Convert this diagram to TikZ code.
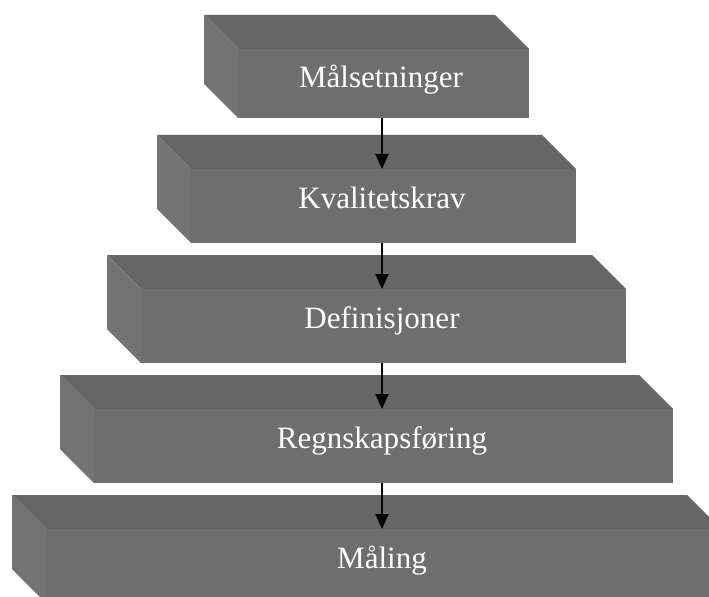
\documentclass[tikz,border=0pt]{standalone}
\usepackage{fontspec}
\setmainfont{Liberation Serif}
\usetikzlibrary{arrows.meta}
\begin{document}
\begin{tikzpicture}[x=0.03cm, y=-0.03cm, line join=miter,
    topface/.style={fill=black!60},
    sideface/.style={fill=black!55},
    frontface/.style={fill=black!57},
    label/.style={text=white, anchor=base, inner sep=0pt,
      font=\fontsize{26.5}{30}\selectfont},
    flow/.style={line width=1.7pt, -{Triangle[length=0.45cm, width=0.39cm]}}]
  \useasboundingbox (0,0) rectangle (709,597);
  \clip (0,0) rectangle (709,597);
  % Målsetninger
  \begin{scope}
    \fill[topface] (204,15) -- (495,15) -- (529,49) -- (238,49) -- cycle;
    \fill[sideface] (204,15) -- (238,49) -- (238,118) -- (204,84) -- cycle;
    \fill[frontface] (238,49) rectangle (529,118);
    \node[label] (t1) at (381,88) {Målsetninger};
    \coordinate (b1) at (382,118);
  \end{scope}
  % Kvalitetskrav
  \begin{scope}
    \fill[topface] (157,135) -- (542,135) -- (576,169) -- (191,169) -- cycle;
    \fill[sideface] (157,135) -- (191,169) -- (191,243) -- (157,209) -- cycle;
    \fill[frontface] (191,169) rectangle (576,243);
    \node[label] (t2) at (382,208) {Kvalitetskrav};
    \coordinate (f2) at (382,169);
    \coordinate (b2) at (382,243);
  \end{scope}
  % Definisjoner
  \begin{scope}
    \fill[topface] (107,255) -- (592,255) -- (626,289) -- (141,289) -- cycle;
    \fill[sideface] (107,255) -- (141,289) -- (141,363) -- (107,329) -- cycle;
    \fill[frontface] (141,289) rectangle (626,363);
    \node[label] (t3) at (382,328) {Definisjoner};
    \coordinate (f3) at (382,289);
    \coordinate (b3) at (382,363);
  \end{scope}
  % Regnskapsføring
  \begin{scope}
    \fill[topface] (60,375) -- (639,375) -- (673,409) -- (94,409) -- cycle;
    \fill[sideface] (60,375) -- (94,409) -- (94,483) -- (60,449) -- cycle;
    \fill[frontface] (94,409) rectangle (673,483);
    \node[label] (t4) at (382,448) {Regnskapsføring};
    \coordinate (f4) at (382,409);
    \coordinate (b4) at (382,483);
  \end{scope}
  % Måling
  \begin{scope}
    \fill[topface] (12,495) -- (687,495) -- (721,529) -- (46,529) -- cycle;
    \fill[sideface] (12,495) -- (46,529) -- (46,603) -- (12,569) -- cycle;
    \fill[frontface] (46,529) rectangle (721,603);
    \node[label] (t5) at (382,568) {Måling};
    \coordinate (f5) at (382,529);
  \end{scope}
  % piler
  \draw[flow] (b1) -- (f2);
  \draw[flow] (b2) -- (f3);
  \draw[flow] (b3) -- (f4);
  \draw[flow] (b4) -- (f5);
\end{tikzpicture}
\end{document}
